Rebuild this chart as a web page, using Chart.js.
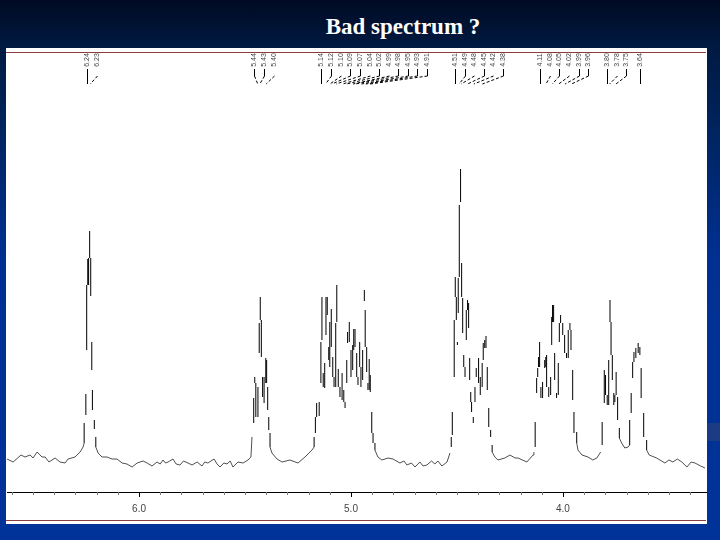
<!DOCTYPE html>
<html>
<head>
<meta charset="utf-8">
<title>Bad spectrum ?</title>
<script src="https://cdn.jsdelivr.net/npm/chart.js@4"></script>
<style>
html, body { margin: 0; padding: 0; }
body {
    position: relative; width: 720px; height: 540px; overflow: hidden;
    background: linear-gradient(#000a22 0, #001a42 48px, #00245f 130px, #003092 260px, #003399 540px);
}
#panel { position: absolute; left: 6px; top: 48px; width: 701px; height: 476px; background: #fff; }
#ruleTop, #ruleBottom { position: absolute; left: 0; width: 700px; height: 1px; background: #8b3c3c; }
#ruleTop { top: 4px; }
#ruleBottom { top: 472px; }
#smudge { position: absolute; left: 707px; top: 423px; width: 13px; height: 18px; background: #1c3b85; }
h1 {
    position: absolute; left: 0; top: 14px; width: 806px; margin: 0; text-align: center;
    font: bold 23px "Liberation Serif", serif; color: #fff;
}
canvas { position: absolute; left: 0; top: 0; }
</style>
</head>
<body>
<h1>Bad spectrum ?</h1>
<div id="panel"><div id="ruleTop"></div><div id="ruleBottom"></div></div>
<div id="smudge"></div>
<canvas id="spectrum" width="720" height="540"></canvas>
<script>
// low part of the trace, null lifts the pen where the peaks start
var traceShift = [6.623,6.594,6.557,6.538,6.514,6.500,6.481,6.458,6.443,6.425,6.396,6.373,6.349,6.335,6.302,6.278,6.264,6.259,6.259,
    6.204,6.193,6.175,6.151,6.127,6.104,6.080,6.057,6.033,6.009,5.981,5.962,5.939,5.915,5.900,5.887,5.875,5.863,5.840,5.825,5.807,5.790,5.769,5.750,5.726,5.703,5.690,5.675,5.646,5.632,5.618,5.600,5.585,5.570,5.557,5.533,5.509,5.486,5.472,5.467,5.467,
    5.382,5.373,5.349,5.325,5.288,5.250,5.217,5.184,5.174,5.174,
    4.887,4.873,4.854,4.825,4.802,4.769,4.750,4.736,4.715,4.698,4.675,4.660,4.642,4.620,4.604,4.590,4.571,4.547,4.533,4.533,
    4.334,4.321,4.307,4.274,4.250,4.226,4.212,4.170,4.141,4.137,4.137,
    3.935,3.929,3.910,3.882,3.859,3.840,3.822,3.822,
    3.734,3.723,3.708,3.692,3.685,3.685,
    3.605,3.593,3.558,3.519,3.500,3.481,3.460,3.439,3.415,3.395,3.377,3.350,3.330];
var traceIntensity = [33,30,37,35,37,34,40,35,35,30,34,30,29,33,35,40,45,49,null,
    45,39,35,35,33,33,29,28,25,29,31,29,26,30,28,32,29,30,33,28,27,31,29,27,30,26,30,29,33,28,25,29,28,31,25,30,29,32,35,55,null,
    45,39,33,30,32,29,35,42,45,null,
    42,35,32,34,33,29,31,27,29,25,30,26,27,31,28,31,26,30,39,null,
    40,35,32,34,37,34,34,30,37,40,null,
    49,42,37,35,32,34,40,null,
    54,49,44,45,47,null,
    42,37,34,29,32,30,33,30,25,30,29,26,24];

// the peaks only survive as separate vertical strokes
var strokeShift = [6.259,6.251,6.247,6.242,6.238,6.233,6.228,6.223,6.220,6.211,6.204,
    5.459,5.454,5.449,5.439,5.433,5.428,5.423,5.417,5.410,5.402,5.398,5.393,5.388,5.382,
    5.174,5.168,5.162,5.150,5.142,5.137,5.131,5.124,5.118,5.112,5.105,5.100,5.093,5.086,5.080,5.072,5.067,5.060,5.052,5.042,5.034,5.028,5.020,5.016,5.008,5.000,4.992,4.987,4.981,4.973,4.967,4.959,4.953,4.945,4.937,4.933,4.926,4.920,4.914,4.909,4.902,4.896,4.887,
    4.527,4.522,4.513,4.508,4.503,4.498,4.494,4.489,4.483,4.478,4.473,4.468,4.462,4.456,4.450,4.445,4.440,4.435,4.431,4.423,4.415,4.409,4.398,4.390,4.381,4.376,4.369,4.363,4.357,4.350,4.341,4.334,
    4.131,4.124,4.119,4.115,4.110,4.104,4.096,4.086,4.081,4.077,4.067,4.058,4.053,4.049,4.044,4.039,4.030,4.022,4.017,4.011,4.001,3.992,3.983,3.975,3.967,3.962,3.954,3.948,3.935,
    3.815,3.805,3.799,3.791,3.784,3.778,3.773,3.767,3.760,3.755,3.749,3.742,3.734,
    3.685,3.678,3.671,3.665,3.656,3.645,3.637,3.631,3.619,3.605];
var strokeHigh = [69,98,207,233,234,261,234,150,102,72,55,
    94,115,109,105,169,195,172,115,115,134,132,105,75,59,
    55,75,89,90,150,195,119,129,195,195,145,170,183,135,115,169,207,123,105,119,102,90,132,160,170,142,147,163,163,139,115,150,125,142,202,182,145,109,133,117,80,59,49,
    55,80,172,215,195,150,214,287,323,229,194,137,125,182,192,189,134,100,90,75,105,124,134,115,129,149,152,156,125,84,62,47,
    70,114,124,135,150,105,110,132,135,137,105,115,175,187,187,139,99,129,169,177,169,157,139,162,169,162,122,80,60,
    70,122,117,97,132,192,170,137,99,97,120,95,64,
    72,99,130,140,144,149,145,124,79,52];
var strokeLow = [49,77,142,207,207,234,196,122,82,63,45,
    69,109,75,75,139,172,135,95,89,109,109,82,62,45,
    45,59,75,76,109,152,105,104,157,177,132,125,145,115,105,105,170,105,95,92,90,84,109,149,150,115,122,142,145,115,107,125,105,112,191,145,120,102,102,100,59,49,42,
    45,57,115,195,172,147,179,215,290,195,159,125,115,152,182,164,112,90,80,69,90,115,109,97,105,132,144,144,102,65,55,40,
    45,99,115,125,125,94,94,124,125,105,95,97,147,170,170,112,94,97,150,169,157,139,134,134,162,142,92,59,49,
    47,89,97,87,87,170,137,112,87,90,97,72,54,
    47,79,114,130,134,139,137,94,55,42];

// x axis
var tickValues = [6.6,6.5,6.4,6.3,6.2,6.1,6.0,5.9,5.8,5.7,5.6,5.5,5.4,5.3,5.2,5.1,5.0,4.9,4.8,4.7,4.6,4.5,4.4,4.3,4.2,4.1,4.0,3.9,3.8,3.7,3.6,3.5,3.4];
var majorTicks = [6.0, 5.0, 4.0];

// peak picking labels along the top, and where on the axis each label is printed
var peakLabels = ['6.24','6.23','5.44','5.43','5.40',
    '5.14','5.12','5.10','5.09','5.07','5.04','5.02','4.99','4.98','4.95','4.93','4.91',
    '4.51','4.49','4.48','4.45','4.42','4.38',
    '4.11','4.08','4.05','4.02','3.99','3.96',
    '3.80','3.78','3.75','3.64'];
var labelShift = [6.245,6.198,5.458,5.410,5.363,
    5.142,5.095,5.047,5.005,4.958,4.910,4.868,4.821,4.778,4.731,4.689,4.642,
    4.509,4.462,4.420,4.373,4.330,4.283,
    4.108,4.061,4.019,3.972,3.925,3.882,
    3.792,3.745,3.703,3.637];
var stemmed = ['6.24','5.44','5.43','5.12','5.09','5.07','5.02','4.98','4.95','4.93','4.91','4.51','4.49','4.45','4.38','4.11','4.05','3.99','3.96','3.80','3.75','3.64'];

// flatten the strokes to one line with pen lifts
var strokePoints = [];
strokeShift.forEach(function (s, i) {
    strokePoints.push({ x: s, y: strokeLow[i] }, { x: s, y: strokeHigh[i] }, { x: s, y: null });
});

var peakPicks = {
    id: 'peakPicks',
    afterDraw: function (chart) {
        var ctx = chart.ctx, x = chart.scales.x;
        ctx.save();
        ctx.strokeStyle = '#000';
        ctx.lineWidth = 1;
        peakLabels.forEach(function (text, i) {
            var px = Math.round(x.getPixelForValue(labelShift[i])) + 0.5;
            var target = x.getPixelForValue(parseFloat(text));
            if (Math.abs(px - target) < 3) {
                // label sits right above its peak, one straight line
                ctx.setLineDash([]);
                ctx.beginPath();
                ctx.moveTo(px, 69);
                ctx.lineTo(px, 84);
                ctx.stroke();
            } else {
                if (stemmed.indexOf(text) >= 0) {
                    ctx.setLineDash([]);
                    ctx.beginPath();
                    ctx.moveTo(px, 69);
                    ctx.lineTo(px, 76);
                    ctx.stroke();
                }
                ctx.setLineDash([3, 2]);
                ctx.beginPath();
                ctx.moveTo(px, 76);
                ctx.lineTo(target, 84);
                ctx.stroke();
            }
            ctx.save();
            ctx.translate(px, 60);
            ctx.rotate(-Math.PI / 2);
            ctx.font = '7px "Liberation Sans"';
            ctx.fillStyle = '#444';
            ctx.textAlign = 'center';
            ctx.textBaseline = 'middle';
            ctx.fillText(text, 0, 0);
            ctx.restore();
        });
        // tick marks, long at the labelled ppm values
        ctx.setLineDash([]);
        tickValues.forEach(function (v) {
            var major = majorTicks.indexOf(v) >= 0;
            var px = Math.round(x.getPixelForValue(v)) + 0.5;
            ctx.strokeStyle = major ? '#000' : '#777';
            ctx.beginPath();
            ctx.moveTo(px, x.top);
            ctx.lineTo(px, x.top + (major ? 5 : 3));
            ctx.stroke();
        });
        ctx.restore();
    }
};

var chart = new Chart(document.getElementById('spectrum').getContext('2d'), {
    type: 'line',
    data: {
        datasets: [
            {
                label: 'trace',
                data: traceShift.map(function (s, i) { return { x: s, y: traceIntensity[i] }; }),
                borderColor: '#222',
                borderWidth: 0.8,
                pointRadius: 0,
                tension: 0
            },
            {
                label: 'strokes',
                data: strokePoints,
                borderColor: '#000',
                borderWidth: 1,
                pointRadius: 0,
                tension: 0
            }
        ]
    },
    options: {
        responsive: false,
        animation: false,
        layout: { padding: { left: 7, right: 14, top: 52, bottom: 0 } },
        plugins: { legend: { display: false }, title: { display: false }, tooltip: { enabled: false } },
        scales: {
            x: {
                type: 'linear',
                reverse: true,
                min: 3.325,
                max: 6.623,
                afterBuildTicks: function (scale) {
                    scale.ticks = tickValues.map(function (v) { return { value: v }; });
                },
                afterFit: function (scale) { scale.height = 48; },
                grid: { display: false },
                border: { display: true, color: '#000', width: 1 },
                ticks: {
                    autoSkip: false,
                    maxRotation: 0,
                    padding: 3,
                    color: '#444',
                    font: { family: '"Liberation Sans"', size: 10 },
                    callback: function (v) { return majorTicks.indexOf(v) >= 0 ? v.toFixed(1) : ''; }
                }
            },
            y: { display: false, min: 0, max: 440 }
        }
    },
    plugins: [peakPicks]
});
</script>
</body>
</html>
